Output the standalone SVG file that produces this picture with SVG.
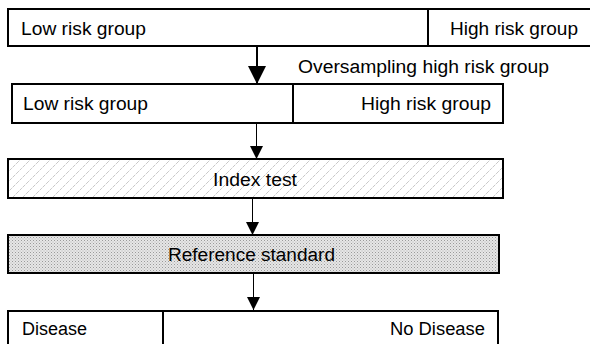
<svg xmlns="http://www.w3.org/2000/svg" width="590" height="344" viewBox="0 0 590 344">
<defs>
<pattern id="hatch" patternUnits="userSpaceOnUse" width="10" height="10">
<path d="M-1,11 L11,-1" stroke="#c8c8c8" stroke-width="1" stroke-dasharray="4,1"/>
</pattern>
<pattern id="dots" patternUnits="userSpaceOnUse" width="3" height="3">
<rect width="3" height="3" fill="#e6e6e6"/>
<rect width="1" height="1" fill="#9a9a9a"/>
<rect x="1.5" y="1.5" width="1" height="1" fill="#b5b5b5"/>
</pattern>
<marker id="ahBig" markerUnits="userSpaceOnUse" markerWidth="18" markerHeight="19" refX="18" refY="9" orient="auto">
<path d="M0,0 L18,9 L0,18 Z" fill="#000"/>
</marker>
<marker id="ahSmall" markerUnits="userSpaceOnUse" markerWidth="13" markerHeight="13" refX="13" refY="6.5" orient="auto">
<path d="M0,0 L13,6.5 L0,13 Z" fill="#000"/>
</marker>
</defs>
<style>
.box{fill:#fff;stroke:#000;stroke-width:2}
.div{stroke:#000;stroke-width:2}
text{font-family:"Liberation Sans",Arial,sans-serif;font-size:18px;fill:#000}
</style>
<g id="connectors">
<line x1="257" y1="47" x2="257" y2="84" stroke="#000" stroke-width="2" marker-end="url(#ahBig)"/>
<line x1="256.5" y1="123" x2="256.5" y2="159" stroke="#000" stroke-width="1" marker-end="url(#ahSmall)"/>
<line x1="252.5" y1="198" x2="252.5" y2="235" stroke="#000" stroke-width="1" marker-end="url(#ahSmall)"/>
<line x1="253.5" y1="273" x2="253.5" y2="310" stroke="#000" stroke-width="1" marker-end="url(#ahSmall)"/>
</g>
<g id="population">
<rect class="box" x="8" y="9" width="590" height="37"/>
<line class="div" x1="428" y1="9" x2="428" y2="46"/>
<text x="21" y="35" textLength="125" lengthAdjust="spacingAndGlyphs">Low risk group</text>
<text x="450" y="35" textLength="128" lengthAdjust="spacingAndGlyphs">High risk group</text>
</g>
<g id="oversampling-label">
<text x="298" y="73" textLength="251" lengthAdjust="spacingAndGlyphs">Oversampling high risk group</text>
</g>
<g id="sample">
<rect class="box" x="12" y="84" width="491" height="39"/>
<line class="div" x1="293" y1="84" x2="293" y2="123"/>
<text x="23" y="110" textLength="125" lengthAdjust="spacingAndGlyphs">Low risk group</text>
<text x="361" y="110" textLength="130" lengthAdjust="spacingAndGlyphs">High risk group</text>
</g>
<g id="index-test">
<rect class="box" x="8" y="159" width="495" height="39"/>
<rect x="9" y="160" width="493" height="37" fill="url(#hatch)"/>
<text x="213" y="186" textLength="84" lengthAdjust="spacingAndGlyphs">Index test</text>
</g>
<g id="reference-standard">
<rect x="8" y="235" width="491" height="38" fill="url(#dots)" stroke="#000" stroke-width="2"/>
<text x="168" y="261" textLength="167" lengthAdjust="spacingAndGlyphs">Reference standard</text>
</g>
<g id="outcome">
<rect class="box" x="8" y="311" width="490" height="45"/>
<line class="div" x1="163" y1="311" x2="163" y2="350"/>
<text x="22" y="335" textLength="65" lengthAdjust="spacingAndGlyphs">Disease</text>
<text x="390" y="335" textLength="95" lengthAdjust="spacingAndGlyphs">No Disease</text>
</g>
</svg>
